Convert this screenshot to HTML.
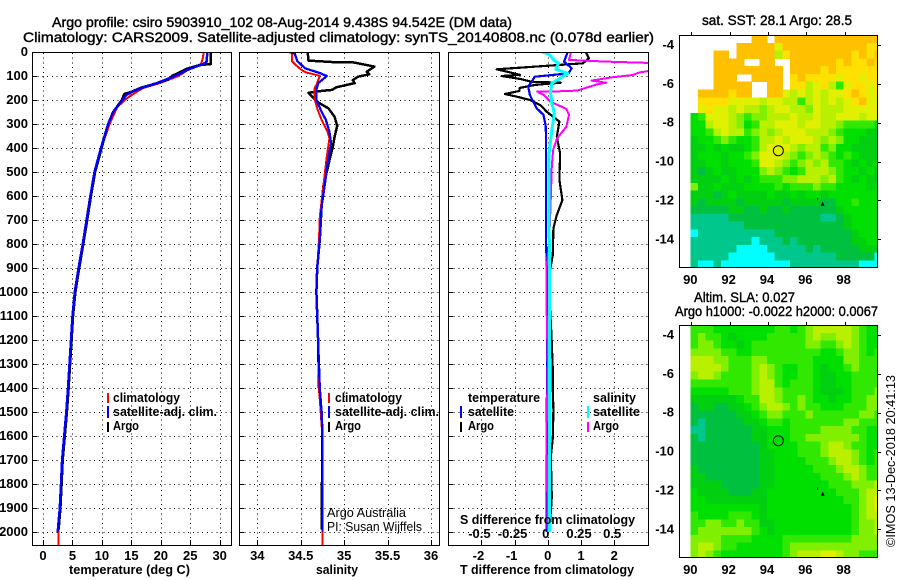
<!DOCTYPE html>
<html lang="en">
<head>
<meta charset="utf-8">
<title>Argo profile 5903910_102</title>
<style>
html,body{margin:0;padding:0;background:#fff;}
svg{display:block;font-family:"Liberation Sans",sans-serif;}
text{fill:#000;}
.lab{font-size:13px;font-weight:bold;}
.ttl{font-size:14px;stroke:#000;stroke-width:.4;}
.thin{font-size:12.5px;}
</style>
</head>
<body>
<svg id="chart" xmlns="http://www.w3.org/2000/svg" width="900" height="580" viewBox="0 0 900 580">
<rect x="0" y="0" width="900" height="580" fill="#fff"/>
<defs>
<clipPath id="clipT"><rect x="32" y="52" width="199" height="493"/></clipPath>
<clipPath id="clipS"><rect x="239" y="52" width="200" height="493"/></clipPath>
<clipPath id="clipD"><rect x="448" y="52" width="200" height="493"/></clipPath>
<clipPath id="clipM1"><rect x="680" y="35" width="197" height="232"/></clipPath>
<clipPath id="clipM2"><rect x="680" y="325" width="197" height="232"/></clipPath>
</defs>
<text class="ttl" x="52" y="27" textLength="460" lengthAdjust="spacingAndGlyphs">Argo profile: csiro 5903910_102 08-Aug-2014 9.438S 94.542E (DM data)</text>
<text class="ttl" x="23" y="42" textLength="631" lengthAdjust="spacingAndGlyphs">Climatology: CARS2009. Satellite-adjusted climatology: synTS_20140808.nc (0.078d earlier)</text>
<text class="ttl" x="702" y="25" textLength="150" lengthAdjust="spacingAndGlyphs">sat. SST: 28.1 Argo: 28.5</text>
<text class="ttl" x="694" y="302" textLength="101" lengthAdjust="spacingAndGlyphs">Altim. SLA: 0.027</text>
<text class="ttl" x="675" y="316" textLength="203" lengthAdjust="spacingAndGlyphs">Argo h1000: -0.0022 h2000: 0.0067</text>
<text class="lab" x="69" y="574" textLength="121" lengthAdjust="spacingAndGlyphs">temperature (deg C)</text>
<text class="lab" x="316" y="574" textLength="42" lengthAdjust="spacingAndGlyphs">salinity</text>
<text class="lab" x="460" y="574" textLength="174" lengthAdjust="spacingAndGlyphs">T difference from climatology</text>
<g id="layer"></g>
<g>
<rect x="107" y="393" width="2" height="10" fill="#f00"/>
<text class="lab" x="113" y="402" textLength="67" lengthAdjust="spacingAndGlyphs">climatology</text>
<rect x="107" y="406" width="2" height="12" fill="#00f"/>
<text class="lab" x="113" y="416" textLength="104" lengthAdjust="spacingAndGlyphs">satellite-adj. clim.</text>
<rect x="107" y="422" width="2" height="10" fill="#000"/>
<text class="lab" x="113" y="430" textLength="26" lengthAdjust="spacingAndGlyphs">Argo</text>
</g>
<g>
<rect x="328" y="393" width="2" height="10" fill="#f00"/>
<text class="lab" x="335" y="402" textLength="67" lengthAdjust="spacingAndGlyphs">climatology</text>
<rect x="328" y="406" width="2" height="12" fill="#00f"/>
<text class="lab" x="335" y="416" textLength="104" lengthAdjust="spacingAndGlyphs">satellite-adj. clim.</text>
<rect x="328" y="422" width="2" height="10" fill="#000"/>
<text class="lab" x="335" y="430" textLength="26" lengthAdjust="spacingAndGlyphs">Argo</text>
<text class="thin" x="327" y="517" textLength="79" lengthAdjust="spacingAndGlyphs">Argo Australia</text>
<text class="thin" x="327" y="531" textLength="95" lengthAdjust="spacingAndGlyphs">PI: Susan Wijffels</text>
</g>
<g>
<text class="lab" x="468" y="402" textLength="72" lengthAdjust="spacingAndGlyphs">temperature</text>
<rect x="460" y="406" width="2" height="12" fill="#00f"/>
<text class="lab" x="468" y="416" textLength="46" lengthAdjust="spacingAndGlyphs">satellite</text>
<rect x="460" y="422" width="2" height="10" fill="#000"/>
<text class="lab" x="468" y="430" textLength="26" lengthAdjust="spacingAndGlyphs">Argo</text>
<text class="lab" x="593" y="402" textLength="43" lengthAdjust="spacingAndGlyphs">salinity</text>
<rect x="587" y="406" width="2" height="12" fill="#0ff"/>
<text class="lab" x="593" y="416" textLength="47" lengthAdjust="spacingAndGlyphs">satellite</text>
<rect x="587" y="422" width="2" height="10" fill="#f0f"/>
<text class="lab" x="593" y="430" textLength="26" lengthAdjust="spacingAndGlyphs">Argo</text>
<text class="lab" x="460" y="524" textLength="175" lengthAdjust="spacingAndGlyphs">S difference from climatology</text>
</g>
<text class="thin" transform="translate(895,547) rotate(-90)" x="0" y="0" textLength="172" lengthAdjust="spacingAndGlyphs" style="font-size:13px">©IMOS 13-Dec-2018 20:41:13</text>
</svg>
<script>
const _ = null;
const depthTicks = [0,100,200,300,400,500,600,700,800,900,1000,1100,1200,1300,1400,1500,1600,1700,1800,1900,2000];
const tempTicks = [0,5,10,15,20,25,30];
const salTicks = ['34','34.5','35','35.5','36'];
const tDiffTicks = ['-2','-1','0','1','2'];
const sDiffTicks = ['-0.5','-0.25','0','0.25','0.5'];
const lonTicks = [90,92,94,96,98];
const latTicks = [-4,-6,-8,-10,-12,-14];

const tempArgoDepth = [0,50,55,70,100,115,130,150,165,175,200,250,300,400,500,600,700,800,900,1000,1100,1200,1300,1400,1500,1600,1700,1800,1900,1990];
const tempArgo = [28.5,28.5,26.5,24.4,21.9,21.2,19.3,16.5,15.1,13.8,13.4,11.9,11.05,9.95,8.85,8.15,7.5,6.85,6.15,5.5,5.1,4.85,4.6,4.35,4.05,3.7,3.35,3.15,2.95,2.65];
const tempSatDepth = [0,40,50,70,100,130,150,165,180,200,250,300,400,500,600,700,800,900,1000,1100,1200,1300,1400,1500,1600,1700,1800,1900,2000];
const tempSat = [27.9,27.8,27.2,24.95,22.4,19.3,16.75,15.2,14.1,13.5,11.9,11.05,9.85,8.75,8.05,7.4,6.75,6.05,5.4,5.0,4.75,4.5,4.25,3.95,3.6,3.25,3.05,2.85,2.5];
const tempClimDepth = [0,30,50,70,100,130,150,180,200,230,300,400,500,600,700,800,900,1000,1100,1200,1300,1400,1500,1600,1700,1800,1900,2000,2054];
const tempClim = [27.3,27.1,26.8,24.9,23,19.8,17,15,13.9,12.6,11.3,9.9,8.75,8.0,7.35,6.7,6.0,5.35,5.0,4.75,4.5,4.25,3.95,3.6,3.25,3.05,2.85,2.65,2.6];

const salArgoDepth = [0,36,42,43,50,61,82,93,103,117,130,133,147,158,162,170,197,214,235,270,308,353,394,436,485,561,644,783,900,1000,1200,1400,1500,1600,1990];
const salArgo = [34.58,34.59,34.875,35.1,35.2,35.35,35.26,35.29,35.16,35.1,35.12,35.08,34.91,34.86,34.74,34.59,34.66,34.72,34.82,34.89,34.92,34.89,34.87,34.84,34.81,34.76,34.74,34.72,34.69,34.68,34.70,34.71,34.74,34.75,34.74];
const salSatDepth = [0,6,38,68,88,100,130,158,200,249,283,332,381,464,547,644,783,900,1000,1200,1400,1500,1600,2000];
const salSat = [34.36,34.43,34.46,34.55,34.72,34.80,34.70,34.68,34.68,34.74,34.79,34.83,34.85,34.81,34.78,34.74,34.72,34.69,34.68,34.70,34.72,34.74,34.75,34.75];
const salClimDepth = [0,38,50,75,85,99,137,150,195,235,283,332,360,436,561,686,783,900,1000,1200,1400,1500,1600,2054];
const salClim = [34.40,34.40,34.43,34.51,34.56,34.72,34.68,34.66,34.66,34.69,34.74,34.81,34.83,34.80,34.76,34.72,34.71,34.69,34.68,34.70,34.71,34.73,34.75,34.75];

const dtArgoDepth = [0,26,47,72,85,95,100,112,124,128,137,150,162,175,189,200,221,249,276,290,353,422,533,617,679,735,846,908,1000,1124,1214,1325,1408,1492,1610,1686,1853,2000];
const dtArgo = [1.14,1.24,1.06,-1.54,-1.14,-0.84,-1.39,-0.84,-0.49,0.39,-0.39,-0.85,-0.85,-1.29,-0.84,-0.54,-0.23,-0.03,0.22,0.35,0.27,0.37,0.35,0.44,0.27,0.17,0.15,0.07,0.04,0.09,0.12,0.15,0.15,0.17,0.15,0.09,0.12,0.05];
const dtSatDepth = [0,40,68,89,103,124,144,179,207,235,262,311,422,800,900,1200,1500,2000];
const dtSat = [0.6,0.49,0.72,0.62,-0.39,-0.49,-0.59,-0.54,-0.44,-0.33,-0.13,-0.06,-0.05,-0.05,-0.03,-0.02,-0.03,-0.03];
const dsSatDepth = [0,10,36,47,72,89,110,130,165,212,256,325,422,700,1000,1400,2000];
const dsSat = [-0.04,0.01,0.05,0.08,0.06,0.15,0.09,0.03,0.02,0.03,0.05,0.03,0.01,0.01,0.014,0.012,0.012];
const dsArgoDepth = [0,33,40,47,72,85,96,105,119,128,135,161,165,165,179,207,237,262,311,360,408,478,650,800,900,1050,1300,1600,2000];
const dsArgo = [0.175,0.16,0.44,0.85,0.85,0.69,0.64,0.49,0.33,0.44,0.37,0.22,0.03,-0.08,-0.03,0.02,0.14,0.16,0.14,0.07,0.04,0.03,0.02,0.01,-0.01,-0.01,0.0,-0.01,0.0];

const levelColors = ['#000','#00ffff','#00c88c','#00c040','#00d010','#00e000','#30e800','#80f000','#b8f000','#e0f000','#ffe000','#ffc000'];
const gridLonStart = 89.95;
const gridLatStart = -3.49;
const gridStep = 0.4;
const sstGrid = [
[_,_,_,_,_,_,_,_,11,11,_,11,11,11,11,11,11,11,11,11,11,11,11,11,11],
[_,_,_,_,_,_,11,11,11,11,11,9,11,11,11,11,11,11,11,11,11,11,11,10,10],
[_,_,_,11,11,_,11,11,11,11,11,8,10,11,11,11,11,11,11,11,11,10,11,10,11],
[_,_,_,11,11,11,11,_,_,11,11,_,_,11,11,11,11,11,11,10,11,10,10,11,10],
[_,_,_,11,11,11,11,11,11,11,11,11,_,11,11,11,11,10,11,10,10,10,10,10,10],
[_,_,_,11,11,11,_,_,11,11,11,11,_,10,11,10,10,10,10,9,10,10,9,10,10],
[_,_,_,11,11,11,11,11,_,_,11,11,_,10,10,8,9,10,8,6,9,10,10,9,10],
[_,11,11,11,11,10,11,11,_,_,11,11,9,8,9,8,9,8,9,9,10,11,10,9,9],
[_,10,10,10,10,9,9,9,9,8,9,9,8,8,6,8,9,8,9,8,9,10,11,9,9],
[_,9,10,9,9,8,9,8,8,7,8,9,9,8,8,7,9,8,8,8,9,9,9,9,9],
[5,6,9,9,9,8,7,6,7,7,8,8,8,9,8,8,9,8,8,9,9,9,8,9,9],
[5,5,8,9,9,8,7,5,6,8,8,9,9,9,8,9,9,8,8,7,6,6,6,6,5],
[5,5,6,8,9,8,8,6,7,8,7,8,9,9,9,8,8,8,7,6,5,5,5,4,4],
[4,5,5,6,7,6,5,5,6,8,8,9,8,9,9,9,8,7,8,7,5,5,4,4,4],
[4,4,5,4,5,4,4,5,6,8,9,9,9,8,7,8,8,6,7,5,5,4,4,4,4],
[4,5,5,5,4,5,5,6,7,9,9,9,8,7,6,7,8,7,6,5,6,5,4,4,4],
[4,4,5,5,4,5,5,5,6,9,9,8,7,6,7,8,7,8,6,6,5,4,5,4,5],
[4,3,4,5,4,4,5,5,5,7,8,7,6,5,6,8,8,8,7,6,5,5,4,5,4],
[4,4,4,4,5,4,5,4,5,6,6,6,7,7,8,8,8,7,8,6,5,4,5,4,4],
[7,4,4,5,4,4,4,5,5,5,5,6,5,6,6,6,7,6,6,5,5,5,5,4,5],
[4,4,4,3,4,5,4,4,4,4,5,4,4,5,4,5,5,4,5,5,5,5,5,5,5],
[4,3,4,4,4,4,3,4,4,4,4,4,3,4,4,4,4,3,3,5,5,6,5,5,5],
[3,3,3,3,3,4,4,3,3,4,3,3,4,3,3,3,3,3,3,4,5,5,5,5,5],
[2,2,2,2,2,3,3,3,3,3,3,3,3,3,3,3,3,2,2,3,4,5,5,5,5],
[2,2,2,2,2,2,2,3,3,3,3,3,3,3,3,3,3,3,3,3,4,5,5,5,5],
[1,2,2,2,2,2,2,2,2,2,2,3,3,3,3,3,3,3,3,3,3,4,5,5,5],
[2,2,2,2,2,2,2,2,1,2,2,2,3,2,3,3,3,3,3,3,3,4,4,5,5],
[2,2,2,2,2,2,1,1,1,1,2,2,2,2,2,3,2,3,3,3,3,3,4,4,4],
[2,2,2,2,2,1,1,1,1,1,1,2,2,2,2,2,2,2,2,3,3,3,3,3,1],
[2,1,1,2,1,1,1,1,1,1,1,1,1,2,2,2,2,2,2,2,2,2,1,1,1]
];
const slaGrid = [
[6,6,6,5,5,5,5,5,5,5,5,6,6,5,6,7,8,8,8,8,8,7,6,5,5],
[6,7,6,6,5,4,5,5,5,5,6,6,6,6,6,7,8,7,7,8,8,7,6,5,5],
[6,7,7,6,5,5,4,5,6,6,6,6,6,6,6,7,7,6,6,7,8,7,6,5,5],
[7,7,7,7,6,6,5,5,6,6,6,6,6,6,6,6,6,5,5,6,7,7,6,5,6],
[8,8,8,7,7,6,6,6,7,7,6,6,6,6,6,6,5,5,5,5,7,7,6,6,6],
[8,8,8,8,7,6,6,6,7,8,7,6,5,5,6,6,5,4,5,5,6,7,6,6,6],
[7,8,8,7,6,6,6,6,7,8,7,6,5,5,6,6,5,4,4,5,5,6,6,6,6],
[6,6,6,6,6,6,6,6,7,8,8,6,5,6,6,6,5,4,4,5,5,6,6,6,6],
[5,5,5,5,5,6,6,6,7,8,8,7,6,6,6,6,5,4,4,4,5,6,6,6,7],
[4,4,4,4,4,4,5,6,6,8,8,7,6,6,7,6,5,5,4,5,5,6,6,7,7],
[3,4,4,3,3,4,4,5,6,7,8,8,7,6,7,6,6,5,5,5,6,6,6,7,7],
[3,3,3,3,3,3,4,4,5,6,7,7,6,6,6,7,6,6,6,6,6,6,7,7,6],
[3,2,3,3,3,3,3,4,4,5,6,6,5,6,6,6,6,6,6,6,7,7,6,6,6],
[2,2,3,3,3,3,3,3,4,4,5,5,5,6,6,6,6,7,7,7,7,6,6,5,5],
[3,2,3,3,3,3,3,3,4,4,5,5,5,6,6,7,7,7,7,7,7,7,6,5,5],
[3,3,3,3,3,3,3,3,3,4,5,5,5,5,6,6,6,7,8,8,7,6,6,5,5],
[3,3,3,3,3,3,3,3,3,4,4,5,5,5,6,6,6,7,8,8,8,7,6,5,6],
[3,3,3,3,3,3,3,3,3,4,4,5,5,5,5,6,6,6,7,8,8,7,6,5,6],
[4,3,3,3,3,3,3,3,3,4,4,5,5,5,5,5,6,6,6,7,8,8,7,6,6],
[4,4,3,3,3,3,3,3,3,4,4,5,5,5,5,5,5,6,6,6,7,8,7,6,6],
[4,4,4,4,3,3,3,3,3,4,4,5,5,5,5,5,5,5,6,6,6,7,7,7,8],
[5,4,4,4,4,3,3,3,4,4,5,5,5,5,5,5,5,5,5,6,6,6,7,8,8],
[5,5,4,4,4,4,4,4,4,4,5,5,5,5,5,5,5,5,5,5,6,6,7,8,9],
[5,5,5,5,5,5,5,5,5,4,5,5,5,5,5,5,5,5,5,5,5,6,7,8,9],
[6,5,5,5,5,6,6,6,5,4,5,5,5,5,5,5,5,5,5,5,5,6,7,8,8],
[6,6,7,7,6,6,7,6,6,4,4,5,5,5,5,5,5,5,5,5,5,6,7,7,8],
[6,7,7,7,7,7,7,7,6,5,4,5,5,5,5,5,5,5,5,5,5,6,7,7,8],
[7,7,7,7,6,6,6,6,5,5,5,5,6,6,6,6,6,6,6,6,6,7,7,7,7],
[7,8,8,7,6,6,5,5,5,5,5,5,6,7,7,7,7,7,7,7,7,7,7,7,7],
[7,8,7,6,5,5,5,5,5,5,5,5,6,7,8,8,8,9,9,8,7,7,6,6,6]
];
const floatLon = [94.54];
const floatLat = [-9.44];
const islandLon = [96.85];
const islandLat = [-12.17];

const yDepth = d => 52 + 0.24 * d;
const xTemp = t => 43 + 5.89 * t;
const xSal = s => 257.3 + 86.85 * (s - 34);
const xDT = v => 547.8 + 33.2 * v;
const xDS = v => 547.8 + 132.8 * v;
const lonX = lon => 691.3 + 19.17 * (lon - 90);
const latY1 = lat => 45 + 19.43 * (-4 - lat);
const latY2 = lat => 335 + 19.43 * (-4 - lat);

const NS = 'http://www.w3.org/2000/svg';
const layer = document.getElementById('layer');

function make(parent, tag, attrs, content) {
  const n = document.createElementNS(NS, tag);
  for (const k in attrs) n.setAttribute(k, attrs[k]);
  if (content !== undefined) n.textContent = content;
  parent.appendChild(n);
  return n;
}

function drawSeries(parent, name, xf, depths, values, color, width, clipId) {
  const pts = values.map((v, i) => xf(v).toFixed(1) + ',' + yDepth(depths[i]).toFixed(1)).join(' ');
  const line = make(parent, 'polyline', {points: pts, fill: 'none', stroke: color, 'stroke-width': width, 'clip-path': 'url(#' + clipId + ')', 'shape-rendering': 'crispEdges', 'stroke-linejoin': 'round'});
  
  
}

function drawPanel(name, left, right, xTickValues, xf, showDepthLabels) {
  const g = make(layer, 'g', {});
  
  
  const dotted = {stroke: '#000', 'stroke-width': 1, 'stroke-dasharray': '1 3.7', 'shape-rendering': 'crispEdges'};
  xTickValues.forEach(v => {
    const x = Math.round(xf(Number(v))) + 0.5;
    const gl = make(g, 'line', Object.assign({x1: x, x2: x, y1: 53, y2: 545}, dotted));
    
    
    const tk = make(g, 'line', {x1: x, x2: x, y1: 540, y2: 545, stroke: '#000', 'shape-rendering': 'crispEdges'});
    
    
    const lb = make(g, 'text', {x: xf(Number(v)) - (Number(v) < 0 ? 3 : 0), y: 560, 'text-anchor': 'middle', class: 'lab'}, String(v));
    
    
  });
  depthTicks.forEach(d => {
    const y = Math.round(yDepth(d)) + 0.5;
    const gl = make(g, 'line', Object.assign({x1: left + 1, x2: right, y1: y, y2: y}, dotted));
    
    
    const tk = make(g, 'line', {x1: left, x2: left + 5, y1: y, y2: y, stroke: '#000', 'shape-rendering': 'crispEdges'});
    
    
    if (showDepthLabels) {
      const lb = make(g, 'text', {x: 28, y: yDepth(d) + 4, 'text-anchor': 'end', class: 'lab'}, String(d));
      
      
    }
  });
  return g;
}

function drawFrame(parent, left, right) {
  const f = make(parent, 'rect', {x: left + 0.5, y: 52.5, width: right - left, height: 493, fill: 'none', stroke: '#000', 'shape-rendering': 'crispEdges'});
  
  
}

function drawMap(name, grid, latY, top, clipId) {
  const g = make(layer, 'g', {});
  
  
  const cells = make(g, 'g', {'clip-path': 'url(#' + clipId + ')', 'shape-rendering': 'crispEdges'});
  
  
  grid.forEach((row, r) => {
    row.forEach((v, c) => {
      if (v === null) return;
      const lon = gridLonStart + c * gridStep;
      const lat = gridLatStart - r * gridStep;
      const x0 = lonX(lon);
      const y0 = latY(lat);
      const cell = make(cells, 'rect', {x: x0.toFixed(2), y: y0.toFixed(2), width: (lonX(lon + gridStep) - x0 + 0.4).toFixed(2), height: (latY(lat - gridStep) - y0 + 0.4).toFixed(2), fill: levelColors[v]});
      
      
    });
  });
  const frame = make(g, 'rect', {x: 679.5, y: top + 0.5, width: 198, height: 232, fill: 'none', stroke: '#000', 'shape-rendering': 'crispEdges'});
  
  
  lonTicks.forEach(lon => {
    const x = Math.round(lonX(lon)) + 0.5;
    const tk = make(g, 'line', {x1: x, x2: x, y1: top - 3, y2: top, stroke: '#000', 'shape-rendering': 'crispEdges'});
    
    
    const lb = make(g, 'text', {x: lonX(lon) - 1, y: top + 249, 'text-anchor': 'middle', class: 'lab'}, String(lon));
    
    
  });
  latTicks.forEach(lat => {
    const y = Math.round(latY(lat)) + 0.5;
    const tk = make(g, 'line', {x1: 878, x2: 881, y1: y, y2: y, stroke: '#000', 'shape-rendering': 'crispEdges'});
    
    
    const lb = make(g, 'text', {x: 674, y: latY(lat) + 4, 'text-anchor': 'end', class: 'lab'}, String(lat));
    
    
  });
  floatLon.forEach((lon, i) => {
    const c = make(g, 'circle', {cx: lonX(lon), cy: latY(floatLat[i]), r: 5, fill: 'none', stroke: '#000', 'stroke-width': 1});
    
    
  });
  islandLon.forEach((lon, i) => {
    const x = lonX(lon);
    const y = latY(islandLat[i]);
    const t = make(g, 'polygon', {points: (x - 2) + ',' + (y + 2) + ' ' + (x + 2) + ',' + (y + 2) + ' ' + x + ',' + (y - 2), fill: '#000'});
    
    
    const d = make(g, 'rect', {x: x - 5.5, y: y - 6, width: 1, height: 2, fill: '#000'});
    
    
  });
}

const pT = drawPanel('temperature-panel', 32, 231, tempTicks, xTemp, true);
drawSeries(pT, 'temperature-climatology-line', xTemp, tempClimDepth, tempClim, '#f00', 2, 'clipT');
drawSeries(pT, 'temperature-argo-line', xTemp, tempArgoDepth, tempArgo, '#000', 2.5, 'clipT');
drawSeries(pT, 'temperature-satellite-line', xTemp, tempSatDepth, tempSat, '#00f', 2.5, 'clipT');
drawFrame(pT, 32, 231);

const pS = drawPanel('salinity-panel', 239, 439, salTicks, xSal, false);
drawSeries(pS, 'salinity-argo-line', xSal, salArgoDepth, salArgo, '#000', 2.5, 'clipS');
drawSeries(pS, 'salinity-climatology-line', xSal, salClimDepth, salClim, '#f00', 2, 'clipS');
drawSeries(pS, 'salinity-satellite-line', xSal, salSatDepth, salSat, '#00f', 2.3, 'clipS');
drawFrame(pS, 239, 439);

const pD = drawPanel('difference-panel', 448, 648, tDiffTicks, xDT, false);
sDiffTicks.forEach(v => {
  const lb = make(pD, 'text', {x: xDS(Number(v)) - 2, y: 538, 'text-anchor': 'middle', class: 'lab'}, v);
  
  
});
drawSeries(pD, 't-difference-argo-line', xDT, dtArgoDepth, dtArgo, '#000', 2.2, 'clipD');
drawSeries(pD, 't-difference-satellite-line', xDT, dtSatDepth, dtSat, '#00f', 2.2, 'clipD');
drawSeries(pD, 's-difference-argo-line', xDS, dsArgoDepth, dsArgo, '#f0f', 2, 'clipD');
drawSeries(pD, 's-difference-satellite-line', xDS, dsSatDepth, dsSat, '#0ff', 3, 'clipD');
drawFrame(pD, 448, 648);

drawMap('sst-map', sstGrid, latY1, 35, 'clipM1');
drawMap('sla-map', slaGrid, latY2, 325, 'clipM2');
</script>
</body>
</html>
